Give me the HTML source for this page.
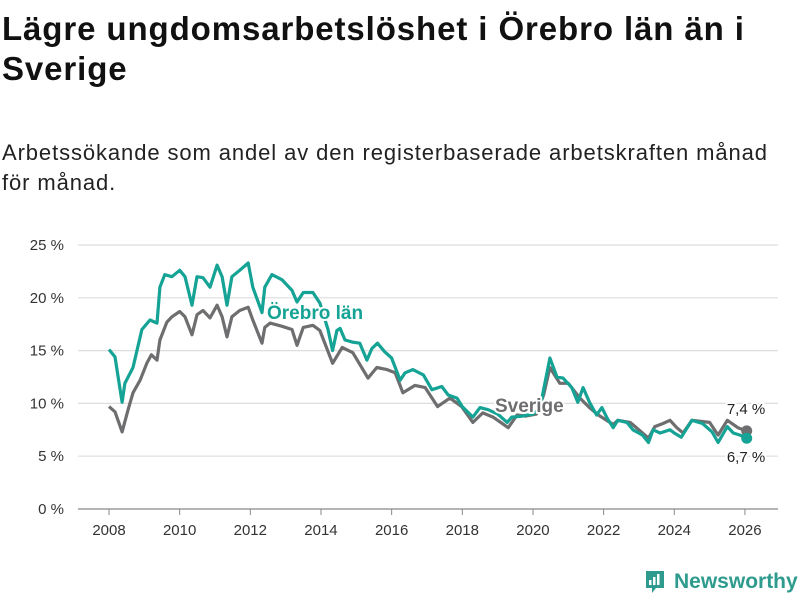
<!DOCTYPE html>
<html><head><meta charset="utf-8"><style>
body{margin:0;width:800px;height:600px;background:#fff;font-family:"Liberation Sans","DejaVu Sans",sans-serif;overflow:hidden;position:relative}
h1{position:absolute;left:2px;top:9px;margin:0;font-size:33px;line-height:40px;font-weight:bold;color:#111;width:798px;letter-spacing:0.9px;white-space:nowrap}
p{position:absolute;left:2px;top:138px;margin:0;font-size:22px;line-height:30px;color:#222;width:798px;letter-spacing:0.9px;white-space:nowrap}
svg{position:absolute;left:0;top:0}
</style></head><body>
<h1>Lägre ungdomsarbetslöshet i Örebro län än i<br>Sverige</h1>
<p>Arbetssökande som andel av den registerbaserade arbetskraften månad<br>för månad.</p>
<svg id="chart" width="800" height="600"></svg>
<script>
const yTicks=[0,5,10,15,20,25];
const yTickLabels=["0 %","5 %","10 %","15 %","20 %","25 %"];
const xTicks=[2008,2010,2012,2014,2016,2018,2020,2022,2024,2026];
const orebroDates=[2008.0,2008.17,2008.37,2008.45,2008.68,2008.93,2009.16,2009.36,2009.44,2009.58,2009.78,2010.0,2010.15,2010.35,2010.49,2010.66,2010.86,2011.06,2011.2,2011.34,2011.48,2011.7,2011.94,2012.07,2012.33,2012.41,2012.61,2012.9,2013.18,2013.32,2013.5,2013.77,2013.97,2014.2,2014.33,2014.45,2014.54,2014.68,2014.9,2015.1,2015.3,2015.44,2015.6,2015.8,2016.0,2016.24,2016.38,2016.6,2016.9,2017.14,2017.42,2017.6,2017.85,2018.0,2018.3,2018.5,2018.73,2019.0,2019.27,2019.4,2019.7,2020.0,2020.2,2020.3,2020.48,2020.68,2020.85,2021.1,2021.27,2021.42,2021.6,2021.8,2021.95,2022.1,2022.27,2022.4,2022.66,2022.83,2023.1,2023.27,2023.4,2023.6,2023.88,2024.0,2024.2,2024.5,2024.8,2025.07,2025.24,2025.5,2025.67,2025.86,2026.05];
const orebroValues=[15.1,14.4,10.1,11.9,13.4,17.0,17.9,17.6,21.0,22.2,22.0,22.6,22.0,19.3,22.0,21.9,21.0,23.1,22.0,19.3,22.0,22.6,23.3,21.0,18.6,21.0,22.2,21.7,20.7,19.6,20.5,20.5,19.5,17.0,15.0,16.9,17.1,16.0,15.8,15.7,14.1,15.2,15.7,14.9,14.3,12.2,12.9,13.2,12.7,11.3,11.6,10.8,10.5,9.7,8.7,9.6,9.4,9.0,8.2,8.7,8.8,9.0,9.5,11.3,14.3,12.5,12.4,11.5,10.1,11.5,10.1,8.9,9.6,8.6,7.7,8.4,8.2,7.5,7.0,6.3,7.5,7.2,7.5,7.2,6.8,8.4,8.1,7.3,6.3,7.8,7.2,7.0,6.7];
const sverigeDates=[2008.0,2008.17,2008.37,2008.54,2008.68,2008.88,2009.07,2009.2,2009.36,2009.44,2009.64,2009.78,2010.0,2010.15,2010.35,2010.49,2010.66,2010.86,2011.06,2011.2,2011.34,2011.48,2011.7,2011.94,2012.07,2012.33,2012.41,2012.56,2012.9,2013.18,2013.32,2013.5,2013.77,2013.97,2014.33,2014.6,2014.9,2015.33,2015.58,2015.87,2016.1,2016.32,2016.66,2016.95,2017.3,2017.65,2017.98,2018.3,2018.58,2018.87,2019.3,2019.55,2019.8,2020.1,2020.3,2020.48,2020.76,2021.0,2021.33,2021.6,2021.85,2022.27,2022.4,2022.75,2023.0,2023.27,2023.45,2023.68,2023.88,2024.07,2024.25,2024.5,2025.0,2025.24,2025.5,2025.8,2026.05];
const sverigeValues=[9.7,9.2,7.3,9.4,11.0,12.2,13.8,14.6,14.1,16.0,17.7,18.2,18.7,18.2,16.5,18.4,18.8,18.1,19.3,18.2,16.3,18.2,18.8,19.1,17.9,15.7,17.2,17.6,17.3,17.0,15.5,17.2,17.4,16.9,13.8,15.3,14.8,12.4,13.4,13.2,12.9,11.0,11.7,11.5,9.7,10.5,9.7,8.2,9.1,8.7,7.7,8.9,8.8,9.0,10.8,13.4,11.9,11.9,10.5,9.6,8.9,8.0,8.4,8.2,7.5,6.7,7.8,8.1,8.4,7.7,7.2,8.4,8.2,7.0,8.4,7.7,7.4];

const NS="http://www.w3.org/2000/svg";
const svg=document.getElementById('chart');
const x=v=>109+(v-2008)*35.33;
const y=v=>509-v*10.56;
function mk(t,a){const e=document.createElementNS(NS,t);for(const k in a)e.setAttribute(k,a[k]);svg.appendChild(e);return e;}
yTicks.forEach((t,i)=>{
  const g=mk('line',{x1:78,x2:778,y1:y(t),y2:y(t),stroke:t===0?'#888':'#ddd','stroke-width':1.2});
  
  
  const l=mk('text',{x:64,y:y(t)+5,'text-anchor':'end','font-size':15,fill:'#333'});
  l.textContent=yTickLabels[i];
  
  
});
xTicks.forEach(t=>{
  const tk=mk('line',{x1:x(t),x2:x(t),y1:509,y2:515,stroke:'#888'});
  
  
  const l=mk('text',{x:x(t),y:535,'text-anchor':'middle','font-size':15,fill:'#333'});
  l.textContent=t;
  
  
});
function series(d,v,c,name){
  const p=mk('path',{d:d.map((t,i)=>(i?'L':'M')+x(t).toFixed(1)+','+y(v[i]).toFixed(1)).join(''),fill:'none',stroke:c,'stroke-width':3.2,'stroke-linejoin':'round'});
  
  
  const dot=mk('circle',{cx:x(d[d.length-1]),cy:y(v[v.length-1]),r:5.5,fill:c});
  
  
  return dot;
}
series(sverigeDates,sverigeValues,'#6e6e70','sverige-line');
series(orebroDates,orebroValues,'#14a394','orebro-line');
function lbl(tx,xx,yy,c,sz,w,anchor,name){
  const t=mk('text',{x:xx,y:yy,fill:c,'font-size':sz,'font-weight':w,'text-anchor':anchor||'start',stroke:'#fff','stroke-width':4,'paint-order':'stroke','stroke-linejoin':'round'});
  t.textContent=tx;
  
  
}
lbl('Örebro län',267,319,'#14a394',19,'bold','start','orebro-series-label');
lbl('Sverige',495,412,'#6e6e70',19,'bold','start','sverige-series-label');
lbl('7,4 %',746,414,'#222',15,'normal','middle','sverige-end-value');
lbl('6,7 %',746,462,'#222',15,'normal','middle','orebro-end-value');
</script>
<div style="position:absolute;left:644px;top:569px;height:26px;display:flex;align-items:center;color:#2f9b8e;font-size:21px;font-weight:bold">
<svg width="22" height="26" viewBox="0 0 22 26" style="position:static;margin-right:8px"><path d="M2 2h18v17h-8l-4 5v-5H2z" fill="#2f9b8e"/><rect x="5" y="11" width="2.5" height="5" fill="#fff"/><rect x="9" y="8" width="2.5" height="8" fill="#fff"/><rect x="13" y="5" width="2.5" height="11" fill="#fff"/></svg>Newsworthy</div>
</body></html>
